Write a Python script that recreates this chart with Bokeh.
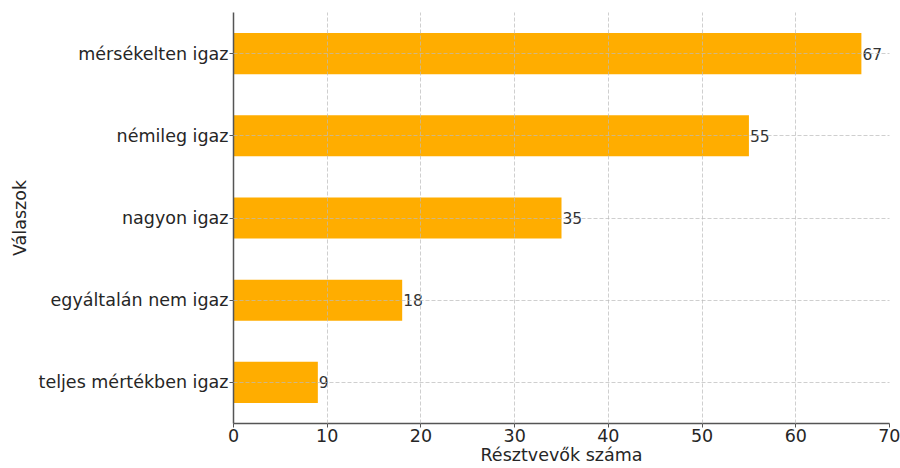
from bokeh.plotting import figure
from bokeh.models import ColumnDataSource, FactorRange, Range1d
from bokeh.core.properties import value
from bokeh.embed import file_html
from bokeh.resources import INLINE

categories = ["teljes mértékben igaz", "egyáltalán nem igaz", "nagyon igaz", "némileg igaz", "mérsékelten igaz"]
counts = [9, 18, 35, 55, 67]
x_ticks = [0, 10, 20, 30, 40, 50, 60, 70]

src = ColumnDataSource(dict(cat=categories, val=counts, lbl=[str(v) for v in counts]))

FONT = "DejaVu Sans"
p = figure(width=900, height=468, y_range=FactorRange(*categories, range_padding=0),
           x_range=Range1d(0, 70), output_backend="svg", toolbar_location=None,
           min_border_top=12, min_border_right=11, min_border_left=233, min_border_bottom=45)
p.outline_line_color = None
p.hbar(y="cat", right="val", left=0, height=0.5, source=src, color="#ffad00", line_color=None)
p.text(x="val", y="cat", text="lbl", source=src, x_offset=1, text_baseline="middle",
       text_align="left", text_font=value(FONT), text_font_size="15.5px", text_color="#333333")

for ax in (p.xaxis, p.yaxis):
    ax.axis_line_color = "#555555"
    ax.axis_line_width = 1.5
    ax.major_tick_line_color = "#555555"
    ax.major_tick_in = 0
    ax.major_tick_out = 4
    ax.minor_tick_line_color = None
    ax.major_label_text_font = FONT
    ax.major_label_text_font_size = "17.5px"
    ax.major_label_text_color = "#262626"
    ax.axis_label_text_font = FONT
    ax.axis_label_text_font_size = "17.5px"
    ax.axis_label_text_font_style = "normal"
    ax.axis_label_text_color = "#262626"
    ax.major_label_standoff = 1
    ax.axis_label_standoff = 0

p.xaxis.ticker = x_ticks
p.xaxis.axis_label = "Résztvevők száma"
p.yaxis.axis_label = "Válaszok"
p.yaxis.axis_label_standoff = 6

for g in (p.xgrid, p.ygrid):
    g.grid_line_color = "#bbbbbb"
    g.grid_line_alpha = 0.7
    g.grid_line_dash = "4 2"
    g.grid_line_width = 1
    g.level = "overlay"
p.ygrid.ticker = p.yaxis.ticker

open("out.html", "w").write(file_html(p, INLINE))
